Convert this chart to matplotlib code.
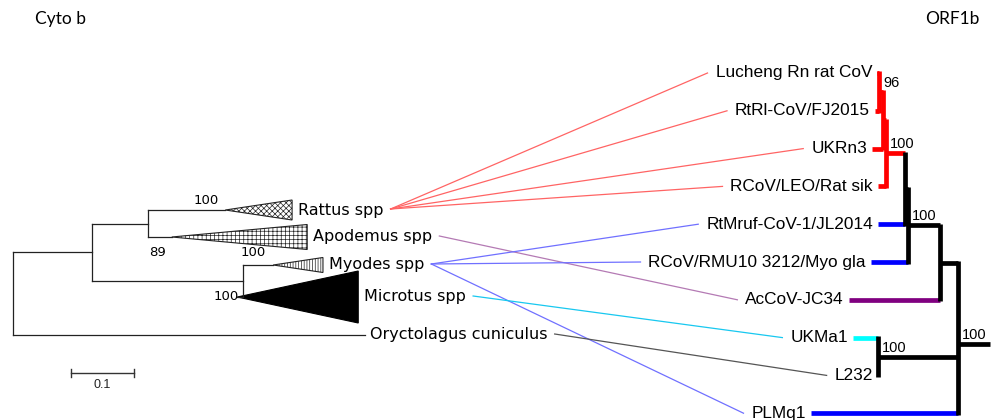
import matplotlib
matplotlib.use("Agg")
import matplotlib.pyplot as plt
from matplotlib.patches import Polygon

# ---------------- data ----------------
# Cyto b host tree (left): node depths in substitutions/site from the root
host_nodes = ["root", "n1", "n2", "n3"]
host_node_parent = [None, "root", "n1", "n1"]
host_node_depth = [0.0, 0.125, 0.214, 0.365]
host_clades = ["Rattus spp", "Apodemus spp", "Myodes spp", "Microtus spp"]
host_clade_parent = ["n2", "n2", "n3", "n3"]
host_clade_apex = [0.337, 0.252, 0.413, 0.356]
host_clade_base = [0.443, 0.467, 0.492, 0.548]
host_outgroup = "Oryctolagus cuniculus"
host_outgroup_depth = 0.559
host_support_text = ["100", "89", "100", "100"]
scale_bar_length = 0.1
scale_bar_label = "0.1"

# ORF1b virus tree (right): depth from the root
virus_leaves = ["Lucheng Rn rat CoV", "RtRl-CoV/FJ2015", "UKRn3", "RCoV/LEO/Rat sik",
                "RtMruf-CoV-1/JL2014", "RCoV/RMU10 3212/Myo gla", "AcCoV-JC34",
                "UKMa1", "L232", "PLMq1"]
virus_leaf_depth = [0.081, 0.083, 0.086, 0.080, 0.080, 0.087, 0.109, 0.105, 0.080, 0.147]
virus_nodes = ["A", "B", "C", "D", "E", "F", "H", "G"]
virus_node_children = [["Lucheng Rn rat CoV", "RtRl-CoV/FJ2015"], ["A", "UKRn3"],
                       ["B", "RCoV/LEO/Rat sik"], ["C", "RtMruf-CoV-1/JL2014"],
                       ["D", "RCoV/RMU10 3212/Myo gla"], ["E", "AcCoV-JC34"],
                       ["UKMa1", "L232"], ["F", "H", "PLMq1"]]
virus_node_depth = [0.079, 0.075, 0.072, 0.053, 0.050, 0.018, 0.080, 0.0]
virus_node_support = ["96", "", "100", "", "100", "", "100", "100"]
virus_root_stub = -0.032

# host-virus associations
link_host = ["Rattus spp"] * 4 + ["Apodemus spp"] + ["Myodes spp"] * 3 + \
            ["Microtus spp", "Oryctolagus cuniculus"]
link_virus = ["Lucheng Rn rat CoV", "RtRl-CoV/FJ2015", "UKRn3", "RCoV/LEO/Rat sik",
              "AcCoV-JC34", "RtMruf-CoV-1/JL2014", "RCoV/RMU10 3212/Myo gla", "PLMq1",
              "UKMa1", "L232"]

title_left = "Cyto b"
title_right = "ORF1b"

# ---------------- styles / layout ----------------
W, H = 992, 420
HX0, HSCALE = 13, 630.0
host_row_y = {"Rattus spp": 210, "Apodemus spp": 237, "Myodes spp": 265,
              "Microtus spp": 297, "Oryctolagus cuniculus": 335}
clade_half = [10, 12.5, 7.5, 26]
clade_hatch = ["xxxxxx", "++++", "||||||", None]
VX0, VSCALE = 958, 1000.0
VROW0, VSTEP = 73, 37.8
leaf_color = {"Lucheng Rn rat CoV": "#ff0000", "RtRl-CoV/FJ2015": "#ff0000",
              "UKRn3": "#ff0000", "RCoV/LEO/Rat sik": "#ff0000",
              "RtMruf-CoV-1/JL2014": "#0000ff", "RCoV/RMU10 3212/Myo gla": "#0000ff",
              "AcCoV-JC34": "#800080", "UKMa1": "#00ffff", "L232": "#000000",
              "PLMq1": "#0000ff"}
node_color = {"A": "#ff0000", "B": "#ff0000", "C": "#ff0000"}
link_color = {"Rattus spp": "#ff6464", "Apodemus spp": "#b47ab4",
              "Myodes spp": "#7070ff", "Microtus spp": "#18c8f0",
              "Oryctolagus cuniculus": "#555555"}

plt.rcParams["hatch.linewidth"] = 0.5
fig = plt.figure(figsize=(W / 100, H / 100), dpi=100)
ax = fig.add_axes([0, 0, 1, 1])
ax.set_xlim(0, W)
ax.set_ylim(H, 0)
ax.axis("off")

hx = lambda d: HX0 + d * HSCALE
vx = lambda d: VX0 - d * VSCALE

LFONT = dict(family="DejaVu Sans", fontsize=11.5)
RFONT = dict(family="Liberation Sans", fontsize=12.4)
TLW = 0.9

# ---------------- host tree ----------------
hpos = dict(host_row_y)
nd = dict(zip(host_nodes, host_node_depth))
children = {n: [] for n in host_nodes}
for c, p in zip(host_clades, host_clade_parent):
    children[p].append(c)
for n, p in zip(host_nodes, host_node_parent):
    if p:
        children[p].append(n)
children["root"].append(host_outgroup)


def host_y(n):
    if n in hpos:
        return hpos[n]
    ys = [host_y(c) for c in children[n]]
    hpos[n] = sum(ys) / len(ys)
    return hpos[n]


for n in host_nodes:
    host_y(n)
for n in host_nodes:
    ys = [hpos[c] for c in children[n]]
    ax.plot([hx(nd[n])] * 2, [min(ys), max(ys)], color="#222", lw=TLW)
    for c in children[n]:
        if c in nd:
            ax.plot([hx(nd[n]), hx(nd[c])], [hpos[c]] * 2, color="#222", lw=TLW)
ax.plot([hx(0), hx(host_outgroup_depth)], [hpos[host_outgroup]] * 2, color="#222", lw=TLW)

label_art = {}
for i, c in enumerate(host_clades):
    y = hpos[c]
    p = host_clade_parent[i]
    ax.plot([hx(nd[p]), hx(host_clade_apex[i])], [y, y], color="#222", lw=TLW)
    tri = [(hx(host_clade_apex[i]), y), (hx(host_clade_base[i]), y - clade_half[i]),
           (hx(host_clade_base[i]), y + clade_half[i])]
    if clade_hatch[i] is None:
        poly = Polygon(tri, closed=True, facecolor="black", edgecolor="black", lw=0.8)
    else:
        poly = Polygon(tri, closed=True, facecolor="white", edgecolor="#222",
                       hatch=clade_hatch[i], lw=0.8)
    ax.add_patch(poly)
    label_art[c] = ax.text(hx(host_clade_base[i]) + 6, y, c, va="center", ha="left", **LFONT)
label_art[host_outgroup] = ax.text(hx(host_outgroup_depth) + 5, hpos[host_outgroup],
                                   host_outgroup, va="center", ha="left", **LFONT)

# host support values
BFONT = dict(family="DejaVu Sans", fontsize=9.5)
ax.text(hx(host_clade_apex[0]) - 6, hpos["Rattus spp"] - 3, host_support_text[0],
        ha="right", va="bottom", **BFONT)
ax.text(hx(nd["n2"]) + 1, hpos["Apodemus spp"] + 9, host_support_text[1],
        ha="left", va="top", **BFONT)
ax.text(hx(nd["n3"]) - 2, hpos["Apodemus spp"] + 9, host_support_text[2],
        ha="left", va="top", **BFONT)
ax.text(hx(nd["n3"]) - 4, hpos["Microtus spp"] - 1, host_support_text[3],
        ha="right", va="center", **BFONT)

# scale bar
sb_y = 372.5
ax.plot([hx(0.092), hx(0.092 + scale_bar_length)], [sb_y, sb_y], color="#333", lw=1)
for xx in (hx(0.092), hx(0.092 + scale_bar_length)):
    ax.plot([xx, xx], [sb_y - 4, sb_y + 4], color="#333", lw=1)
ax.text(hx(0.092 + scale_bar_length / 2), sb_y + 13, scale_bar_label, ha="center",
        va="center", family="Liberation Sans", fontsize=9, color="#222")

# ---------------- virus tree ----------------
vpos = {}
vdepth = {}
for i, n in enumerate(virus_leaves):
    vpos[n] = VROW0 + i * VSTEP
    vdepth[n] = virus_leaf_depth[i]
for n, ch, d in zip(virus_nodes, virus_node_children, virus_node_depth):
    vdepth[n] = d
    vpos[n] = sum(vpos[c] for c in ch) / len(ch)

TKW = 3.4
for n, ch in zip(virus_nodes, virus_node_children):
    ys = [vpos[c] for c in ch]
    col = node_color.get(n, "black")
    for c in ch:
        ccol = leaf_color.get(c, node_color.get(c, "black"))
        ax.plot([vx(vdepth[c]), vx(vdepth[n])], [vpos[c]] * 2, color=ccol, lw=TKW,
                solid_capstyle="butt", zorder=3)
    ax.plot([vx(vdepth[n])] * 2, [min(ys) - 1.7, max(ys) + 1.7], color=col, lw=TKW,
            solid_capstyle="butt", zorder=4)
ax.plot([vx(0), vx(virus_root_stub)], [vpos["G"]] * 2, color="black", lw=TKW,
        solid_capstyle="butt", zorder=3)

SFONT = dict(family="Liberation Sans", fontsize=10.5)
for n, s in zip(virus_nodes, virus_node_support):
    if s:
        ax.text(vx(vdepth[n]) + 4, vpos[n] - 2, s, ha="left", va="bottom", **SFONT, zorder=5)

for i, n in enumerate(virus_leaves):
    label_art[n] = ax.text(vx(virus_leaf_depth[i]) - 5, vpos[n], n, ha="right",
                           va="center", **RFONT)

# ---------------- association links ----------------
fig.canvas.draw()
rend = fig.canvas.get_renderer()
inv = ax.transData.inverted()
for h, v in zip(link_host, link_virus):
    bh = label_art[h].get_window_extent(rend)
    bv = label_art[v].get_window_extent(rend)
    x0 = inv.transform((bh.x1, 0))[0] + 7
    x1 = inv.transform((bv.x0, 0))[0] - 8
    ax.plot([x0, x1], [hpos[h] - 1, vpos[v]], color=link_color[h], lw=0.9, zorder=1)

# titles
ax.text(35, 19, title_left, ha="left", va="center", family="Lato", fontsize=12.5)
ax.text(980, 19, title_right, ha="right", va="center", family="Lato", fontsize=12.5)

fig.savefig("out.png", dpi=100)
